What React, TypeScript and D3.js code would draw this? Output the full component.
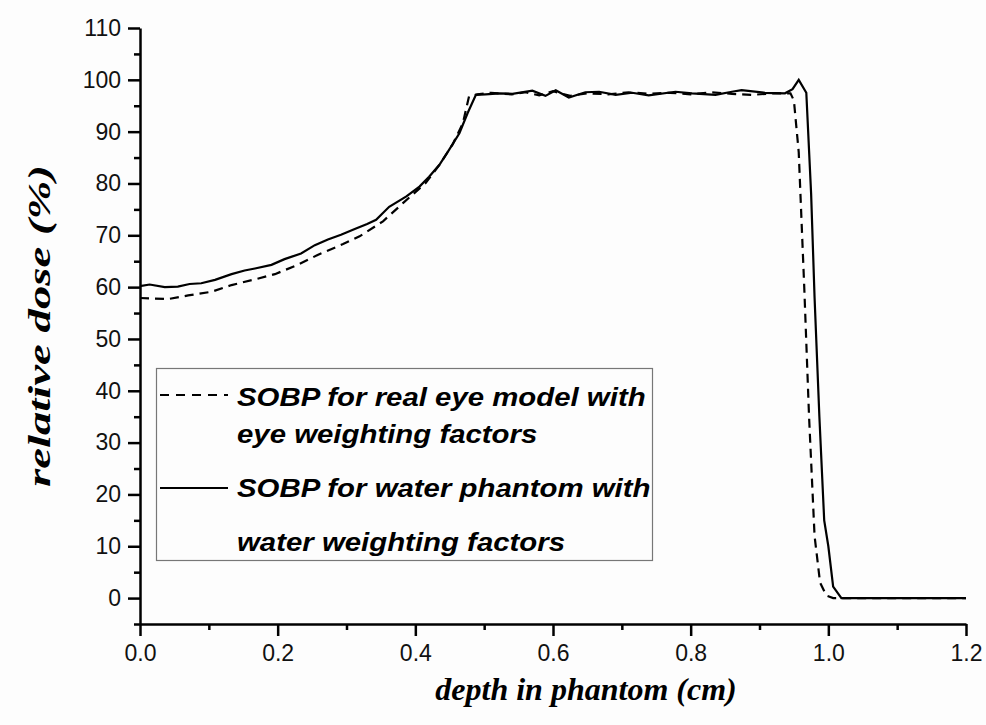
import React, { useRef, useEffect } from 'react';
import * as d3 from 'd3';

// SOBP for water phantom with water weighting factors (solid)
const depthWater = [0, 0.014, 0.036, 0.055, 0.072, 0.089, 0.109, 0.133, 0.152, 0.167, 0.191, 0.21, 0.234, 0.254, 0.273, 0.292, 0.312, 0.33, 0.343, 0.362, 0.387, 0.406, 0.42, 0.435, 0.449, 0.464, 0.476, 0.488, 0.502, 0.522, 0.541, 0.57, 0.589, 0.604, 0.623, 0.647, 0.667, 0.691, 0.715, 0.739, 0.778, 0.802, 0.836, 0.86, 0.874, 0.908, 0.937, 0.948, 0.957, 0.968, 0.975, 0.98, 0.987, 0.994, 1.0, 1.007, 1.019, 1.1, 1.2];
const doseWater = [60.2, 60.5, 60.0, 60.1, 60.6, 60.75, 61.4, 62.5, 63.2, 63.6, 64.3, 65.4, 66.5, 68.1, 69.2, 70.1, 71.2, 72.2, 73.0, 75.5, 77.5, 79.4, 81.3, 83.6, 86.5, 89.7, 93.6, 97.1, 97.2, 97.4, 97.3, 97.9, 96.9, 98.0, 96.6, 97.6, 97.7, 97.1, 97.5, 97.0, 97.7, 97.4, 97.1, 97.7, 98.0, 97.5, 97.4, 98.2, 100, 97.5, 78, 58, 35, 15, 10, 2.2, 0, 0, 0];

// SOBP for real eye model with eye weighting factors (dashed)
const depthEye = [0, 0.041, 0.07, 0.104, 0.133, 0.167, 0.196, 0.229, 0.258, 0.295, 0.319, 0.353, 0.382, 0.415, 0.435, 0.454, 0.469, 0.478, 0.49, 0.51, 0.54, 0.56, 0.58, 0.6, 0.625, 0.65, 0.68, 0.71, 0.74, 0.77, 0.8, 0.83, 0.86, 0.89, 0.92, 0.945, 0.95, 0.957, 0.965, 0.972, 0.98, 0.988, 0.997, 1.007, 1.1, 1.2];
const doseEye = [57.9, 57.7, 58.4, 59.1, 60.4, 61.5, 62.5, 64.3, 66.2, 68.3, 69.8, 72.7, 76.2, 80.1, 83.6, 87.5, 91.6, 96.8, 97.2, 97.5, 97.2, 97.6, 97.0, 97.8, 96.9, 97.4, 97.2, 97.6, 97.3, 97.5, 97.2, 97.6, 97.3, 97.1, 97.4, 97.4, 96, 86, 60, 35, 12, 3, 0.5, 0, 0, 0];

const xMajor = [0, 0.2, 0.4, 0.6, 0.8, 1.0, 1.2];
const xMinor = [0.1, 0.3, 0.5, 0.7, 0.9, 1.1];
const yMajor = [0, 10, 20, 30, 40, 50, 60, 70, 80, 90, 100, 110];
const yMinor = [-5, 5, 15, 25, 35, 45, 55, 65, 75, 85, 95, 105];

const legendLines = [
  ['SOBP for real eye model with', 'eye weighting factors'],
  ['SOBP for water phantom with', 'water weighting factors'],
];

const W = 986, H = 725;

const App = () => {
  const svgRef = useRef<SVGSVGElement>(null);

  useEffect(() => {
    const svg = d3.select(svgRef.current);
    svg.selectAll('*').remove();

    const x = d3.scaleLinear().domain([0, 1.2]).range([140, 966]);
    const y = d3.scaleLinear().domain([-5, 110]).range([624, 28]);

    svg.append('rect').attr('width', W).attr('height', H).attr('fill', '#fdfdfd');

    const sans = '"Liberation Sans", Arial, sans-serif';
    const serif = '"Liberation Serif", "Times New Roman", serif';

    // axes
    const gx = svg.append('g').attr('transform', `translate(0,${y(-5)})`);
    gx.call(d3.axisBottom(x).tickValues(xMajor).tickSize(12).tickSizeOuter(0).tickPadding(9).tickFormat(d3.format('.1f')));
    gx.append('g').call(d3.axisBottom(x).tickValues(xMinor).tickSize(6).tickFormat(() => ''))
      .select('.domain').remove();

    const gy = svg.append('g').attr('transform', `translate(${x(0)},0)`);
    gy.call(d3.axisLeft(y).tickValues(yMajor).tickSize(12).tickSizeOuter(0).tickPadding(7).tickFormat(d3.format('d')));
    gy.append('g').call(d3.axisLeft(y).tickValues(yMinor).tickSize(6).tickFormat(() => ''))
      .select('.domain').remove();

    svg.selectAll('.domain').attr('stroke', '#000').attr('stroke-width', 2.5);
    svg.selectAll('.tick line').attr('stroke', '#000').attr('stroke-width', 2.5);
    svg.selectAll('.tick text').attr('font-family', sans).attr('font-size', 23).attr('fill', '#111');

    // curves
    const line = d3.line<[number, number]>().x(d => x(d[0])).y(d => y(d[1]));
    const eye = depthEye.map((d, i) => [d, doseEye[i]] as [number, number]);
    const water = depthWater.map((d, i) => [d, doseWater[i]] as [number, number]);

    svg.append('path').attr('d', line(eye)).attr('fill', 'none').attr('stroke', '#000')
      .attr('stroke-width', 2.2).attr('stroke-dasharray', '9,6');
    svg.append('path').attr('d', line(water)).attr('fill', 'none').attr('stroke', '#000')
      .attr('stroke-width', 2.2);

    // legend
    const lg = svg.append('g');
    lg.append('rect').attr('x', 156.5).attr('y', 368.5).attr('width', 496).attr('height', 192)
      .attr('fill', 'none').attr('stroke', '#777').attr('stroke-width', 1.2);
    const sampleY = [395, 488];
    const textY = [[406, 443], [497, 551]];
    legendLines.forEach((lines, i) => {
      lg.append('line').attr('x1', 160).attr('x2', 228).attr('y1', sampleY[i]).attr('y2', sampleY[i])
        .attr('stroke', '#000').attr('stroke-width', 2)
        .attr('stroke-dasharray', i === 0 ? '9,7' : null);
      lines.forEach((t, j) => {
        lg.append('text').attr('transform', `translate(237,${textY[i][j]}) scale(1.13,1)`).text(t)
          .attr('font-family', sans).attr('font-size', 26).attr('font-weight', 'bold')
          .attr('font-style', 'italic').attr('fill', '#000');
      });
    });

    // axis titles
    svg.append('text').attr('x', 586).attr('y', 700).attr('text-anchor', 'middle')
      .attr('font-family', serif).attr('font-size', 32).attr('font-weight', 'bold')
      .attr('font-style', 'italic').text('depth in phantom (cm)');
    svg.append('text').attr('transform', 'translate(50,326) rotate(-90)').attr('text-anchor', 'middle')
      .attr('font-family', serif).attr('font-size', 32).attr('font-weight', 'bold')
      .attr('font-style', 'italic').attr('textLength', 322).attr('lengthAdjust', 'spacingAndGlyphs')
      .text('relative dose (%)');
  }, []);

  return (
    <svg ref={svgRef} width={W} height={H}
      style={{ position: 'absolute', left: 0, top: 0, display: 'block' }} />
  );
};

export default App;
